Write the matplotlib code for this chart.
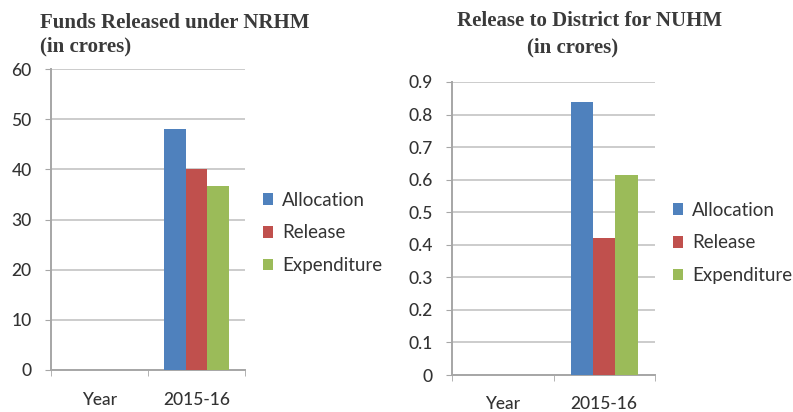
import numpy as np
import matplotlib
matplotlib.use("Agg")
from matplotlib import pyplot as plt

categories = ["Year", "2015-16"]
series = ["Allocation", "Release", "Expenditure"]
colors = ["#4F81BD", "#C0504D", "#9BBB59"]

nrhm_allocation = [0, 48]
nrhm_release = [0, 40]
nrhm_expenditure = [0, 36.6]

nuhm_allocation = [0, 0.84]
nuhm_release = [0, 0.42]
nuhm_expenditure = [0, 0.615]

plt.rcParams['font.family'] = ['Lato', 'DejaVu Sans']

fig = plt.figure(figsize=(7.93, 4.12), dpi=100)

W, H = 793.0, 412.0


def px_axes(x0, x1, ytop, ybot):
    return fig.add_axes([x0 / W, 1 - ybot / H, (x1 - x0) / W, (ybot - ytop) / H])


def draw(ax, data, ymax, ystep, fmt, xpad):
    x = np.arange(len(categories))
    bw = 0.22
    for i, (vals, c) in enumerate(zip(data, colors)):
        ax.bar(x + (i - 1) * bw, vals, bw, color=c, linewidth=0, label=series[i], zorder=3)
    ax.set_xlim(-0.5, len(categories) - 0.5)
    ax.set_ylim(0, ymax)
    ticks = np.arange(0, ymax + ystep / 2, ystep)
    ax.set_yticks(ticks)
    ax.set_yticklabels([fmt(t) for t in ticks])
    ax.set_xticks(x)
    ax.set_xticklabels(categories)
    ax.set_xticks(np.arange(-0.5, len(categories)), minor=True)
    ax.tick_params(axis='x', which='major', length=0, pad=xpad, labelsize=12.5, colors='#333333')
    ax.tick_params(axis='x', which='minor', length=4, direction='out', color='#a6a6a6')
    ax.tick_params(axis='y', length=4, direction='out', color='#a6a6a6', pad=10, labelsize=12.5)
    ax.tick_params(axis='y', which='major', labelcolor='#333333')
    ax.grid(axis='y', color='#cccccc', linewidth=1.4, zorder=0)
    for s in ['top', 'right']:
        ax.spines[s].set_visible(False)
    for s in ['left', 'bottom']:
        ax.spines[s].set_color('#a6a6a6')
        ax.spines[s].set_linewidth(1.4)
    for lab in ax.get_xticklabels() + ax.get_yticklabels():
        lab.set_fontweight('medium')


legend_kw = dict(frameon=False, fontsize=13.5, handlelength=0.55, handleheight=0.55,
                 handletextpad=0.45, labelspacing=0.85, borderaxespad=0, borderpad=0,
                 labelcolor='#333333', bbox_transform=fig.transFigure, loc='center left')

ax1 = px_axes(51, 245, 69, 370)
draw(ax1, [nrhm_allocation, nrhm_release, nrhm_expenditure], 60, 10,
     lambda t: "%d" % t, 16)
ax1.legend(bbox_to_anchor=(263 / W, 1 - 233 / H), **legend_kw)

ax2 = px_axes(452, 655, 82, 375)
draw(ax2, [nuhm_allocation, nuhm_release, nuhm_expenditure], 0.9, 0.1,
     lambda t: "0" if t == 0 else "%.1f" % t, 15)
ax2.legend(bbox_to_anchor=(673 / W, 1 - 243 / H), **legend_kw)

tfont = dict(family='Liberation Serif', fontweight='bold', fontsize=15, color='#3a3a3a')
fig.text(40 / W, 1 - 23 / H, "Funds Released under NRHM", ha='left', va='center', **tfont)
fig.text(40 / W, 1 - 46 / H, "(in crores)", ha='left', va='center', **tfont)
fig.text(590 / W, 1 - 21 / H, "Release to District for NUHM", ha='center', va='center', **tfont)
fig.text(573 / W, 1 - 47 / H, "(in crores)", ha='center', va='center', **tfont)

fig.savefig("out.png", dpi=100, facecolor='white')
